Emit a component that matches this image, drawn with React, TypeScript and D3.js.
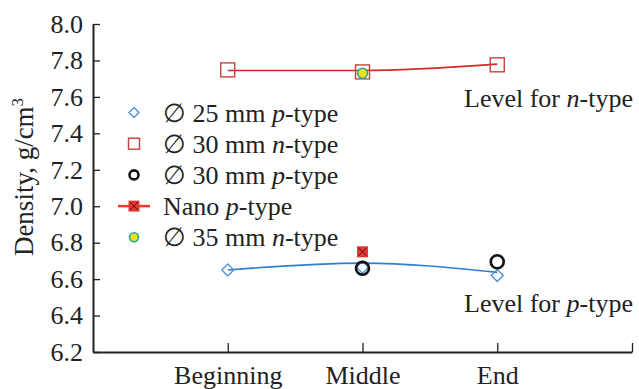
import { useRef, useEffect } from "react"
import * as d3 from "d3"

// categories along the rod
const positions = ["Beginning", "Middle", "End"]
const yTicks = [6.2, 6.4, 6.6, 6.8, 7.0, 7.2, 7.4, 7.6, 7.8, 8.0]

// measured densities (null = not measured)
const p25 = [6.65, 6.665, 6.62]
const n30 = [7.748, 7.737, 7.776]
const p30 = [null, 6.66, 6.695]
const nanoP = [null, 6.75, null]
const n35 = [null, 7.73, null]

// level lines
const levelN = [7.745, 7.745, 7.78]
const levelP = [6.65, 6.688, 6.637]

const legendLabels = [
  ["∅ 25 mm ", "p", "-type"],
  ["∅ 30 mm ", "n", "-type"],
  ["∅ 30 mm ", "p", "-type"],
  ["Nano ", "p", "-type"],
  ["∅ 35 mm ", "n", "-type"],
]

const FONT = "Liberation Serif"
const FS = 26

const App = () => {
  const svgRef = useRef<SVGSVGElement>(null)

  useEffect(() => {
    const svg = d3.select(svgRef.current)
    svg.selectAll("*").remove()

    const x = d3.scaleLinear().domain([-1, 3]).range([93, 632])
    const y = d3.scaleLinear().domain([6.2, 8.0]).range([352, 24])

    // axes
    const xAxis = svg
      .append("g")
      .attr("transform", `translate(0,352)`)
      .call(
        d3
          .axisBottom(x)
          .tickValues([0, 1, 2, 3])
          .tickSizeInner(-9)
          .tickSizeOuter(0)
          .tickPadding(14)
          .tickFormat((d) => positions[+d] ?? ""),
      )
    xAxis.select(".domain").attr("stroke", "#222").attr("stroke-width", 2)
    xAxis.selectAll(".tick line").attr("stroke", "#222").attr("stroke-width", 1.3)
    xAxis
      .selectAll(".tick text")
      .attr("font-family", FONT)
      .attr("font-size", FS)
      .attr("fill", "#222")

    const yAxis = svg
      .append("g")
      .attr("transform", `translate(93,0)`)
      .call(
        d3
          .axisLeft(y)
          .tickValues(yTicks)
          .tickSizeInner(-7)
          .tickSizeOuter(0)
          .tickPadding(10)
          .tickFormat(d3.format(".1f")),
      )
    yAxis.select(".domain").attr("stroke", "#222").attr("stroke-width", 2)
    yAxis.selectAll(".tick line").attr("stroke", "#222").attr("stroke-width", 1.3)
    yAxis
      .selectAll(".tick text")
      .attr("font-family", FONT)
      .attr("font-size", FS)
      .attr("fill", "#222")

    // y label
    const yl = svg
      .append("text")
      .attr("transform", "translate(33,177) rotate(-90)")
      .attr("text-anchor", "middle")
      .attr("font-family", FONT)
      .attr("font-size", 27)
      .attr("fill", "#222")
    yl.append("tspan").text("Density, g/cm")
    yl.append("tspan").attr("dy", -10).attr("font-size", 17).text("3")

    // level lines
    const line = d3
      .line<number>()
      .x((_, i) => x(i))
      .y((d) => y(d))
      .curve(d3.curveMonotoneX)
    svg
      .append("path")
      .attr("d", line(levelN))
      .attr("fill", "none")
      .attr("stroke", "#d42a22")
      .attr("stroke-width", 1.6)
    svg
      .append("path")
      .attr("d", line(levelP))
      .attr("fill", "none")
      .attr("stroke", "#2f7fd0")
      .attr("stroke-width", 1.6)

    // marker drawing helpers
    const diamond = (g, cx, cy, s = 6) =>
      g
        .append("path")
        .attr("d", `M${cx},${cy - s}L${cx + s},${cy}L${cx},${cy + s}L${cx - s},${cy}Z`)
        .attr("fill", "none")
        .attr("stroke", "#4f93d6")
        .attr("stroke-width", 1.4)
    const square = (g, cx, cy, s = 7) =>
      g
        .append("rect")
        .attr("x", cx - s)
        .attr("y", cy - s)
        .attr("width", s * 2)
        .attr("height", s * 2)
        .attr("fill", "none")
        .attr("stroke", "#c8403a")
        .attr("stroke-width", 1.4)
    const ring = (g, cx, cy, r = 6) =>
      g
        .append("circle")
        .attr("cx", cx)
        .attr("cy", cy)
        .attr("r", r)
        .attr("fill", "none")
        .attr("stroke", "#111")
        .attr("stroke-width", 2.6)
    const nano = (g, cx, cy) => {
      g.append("rect")
        .attr("x", cx - 5.5)
        .attr("y", cy - 5.5)
        .attr("width", 11)
        .attr("height", 11)
        .attr("fill", "#e8372e")
      g.append("path")
        .attr("d", `M${cx - 4},${cy - 4}L${cx + 4},${cy + 4}M${cx + 4},${cy - 4}L${cx - 4},${cy + 4}`)
        .attr("stroke", "#4a1020")
        .attr("stroke-width", 1)
    }
    const dot = (g, cx, cy, r = 5) =>
      g
        .append("circle")
        .attr("cx", cx)
        .attr("cy", cy)
        .attr("r", r)
        .attr("fill", "#f2e11c")
        .attr("stroke", "#1fa7a0")
        .attr("stroke-width", 1.6)

    const pts = svg.append("g")
    n30.forEach((v, i) => square(pts, x(i), y(v)))
    p25.forEach((v, i) => diamond(pts, x(i), y(v)))
    p30.forEach((v, i) => v != null && ring(pts, x(i), y(v), 6.5))
    nanoP.forEach((v, i) => v != null && nano(pts, x(i), y(v)))
    n35.forEach((v, i) => v != null && dot(pts, x(i), y(v)))

    // legend
    const lg = svg.append("g")
    const rowY = (i) => 112.5 + i * 31.2
    const mx = 134
    diamond(lg, mx, rowY(0), 5)
    square(lg, mx, rowY(1), 5.5)
    ring(lg, mx, rowY(2), 4.5)
    lg.append("line")
      .attr("x1", 118)
      .attr("x2", 150)
      .attr("y1", rowY(3))
      .attr("y2", rowY(3))
      .attr("stroke", "#ee3b2c")
      .attr("stroke-width", 2.5)
    nano(lg, mx, rowY(3))
    dot(lg, mx, rowY(4), 4.5)

    legendLabels.forEach((parts, i) => {
      const t = lg
        .append("text")
        .attr("x", 163)
        .attr("y", rowY(i) + 9)
        .attr("font-family", FONT)
        .attr("font-size", FS)
        .attr("fill", "#222")
      t.append("tspan").text(parts[0])
      t.append("tspan").attr("font-style", "italic").text(parts[1])
      t.append("tspan").text(parts[2])
    })

    // level annotations
    const ann = (ty, letter) => {
      const t = svg
        .append("text")
        .attr("x", 464)
        .attr("y", ty)
        .attr("font-family", FONT)
        .attr("font-size", FS)
        .attr("fill", "#222")
      t.append("tspan").text("Level for ")
      t.append("tspan").attr("font-style", "italic").text(letter)
      t.append("tspan").text("-type")
    }
    ann(107, "n")
    ann(312, "p")
  }, [])

  return (
    <svg
      ref={svgRef}
      width={639}
      height={389}
      style={{ position: "absolute", left: 0, top: 0, background: "#fff" }}
    />
  )
}

export default App
